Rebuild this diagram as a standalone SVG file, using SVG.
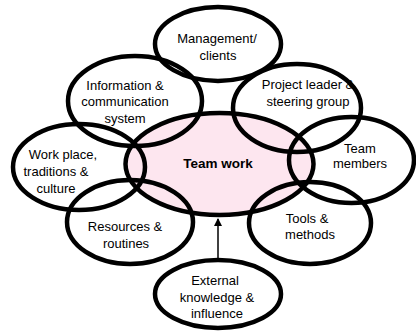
<svg xmlns="http://www.w3.org/2000/svg" width="416" height="332" viewBox="0 0 416 332">
<style>
.o{fill:none;stroke:#000;stroke-width:4.5}
.c{fill:#fde6ef;stroke:#000;stroke-width:4.5}
text{font-family:"Liberation Sans",Arial,sans-serif;font-size:13px;fill:#000;text-anchor:middle}
.b{font-weight:bold;font-size:13.5px}
</style>
<defs>
<marker id="ah" markerWidth="8" markerHeight="8" refX="7" refY="4" orient="auto" markerUnits="userSpaceOnUse">
<path d="M0,0 L8,4 L0,8 Z" fill="#000"/>
</marker>
</defs>
<rect width="416" height="332" fill="#fff"/>
<g id="teamwork">
<ellipse class="c" cx="219.5" cy="164" rx="94" ry="51"/>
<text class="b" x="218" y="168">Team work</text>
</g>
<g id="management">
<ellipse class="o" cx="218" cy="44" rx="63" ry="37"/>
<text x="217" y="43">Management/</text>
<text x="218" y="60">clients</text>
</g>
<g id="information">
<ellipse class="o" cx="135" cy="101" rx="67" ry="45"/>
<text x="125" y="90">Information &amp;</text>
<text x="125" y="106">communication</text>
<text x="125" y="123">system</text>
</g>
<g id="project">
<ellipse class="o" cx="297" cy="108" rx="64" ry="44"/>
<text x="308" y="89">Project leader &amp;</text>
<text x="308" y="106">steering group</text>
</g>
<g id="members">
<ellipse class="o" cx="351.5" cy="160" rx="62.5" ry="43"/>
<text x="360" y="153">Team</text>
<text x="360" y="168">members</text>
</g>
<g id="workplace">
<ellipse class="o" cx="79" cy="167" rx="66" ry="43"/>
<text x="63" y="159">Work place,</text>
<text x="56" y="176">traditions &amp;</text>
<text x="56" y="193">culture</text>
</g>
<g id="resources">
<ellipse class="o" cx="130" cy="222" rx="63" ry="42"/>
<text x="125" y="231">Resources &amp;</text>
<text x="126" y="248">routines</text>
</g>
<g id="tools">
<ellipse class="o" cx="310" cy="223" rx="61" ry="41"/>
<text x="307" y="223">Tools &amp;</text>
<text x="310" y="239">methods</text>
</g>
<g id="external">
<ellipse class="o" cx="218" cy="294" rx="63" ry="34"/>
<text x="215" y="285">External</text>
<text x="217" y="302">knowledge &amp;</text>
<text x="217" y="318">influence</text>
</g>
<g id="connectors">
<line x1="218" y1="260" x2="218" y2="219" stroke="#000" stroke-width="1.5" marker-end="url(#ah)"/>
</g>
</svg>
